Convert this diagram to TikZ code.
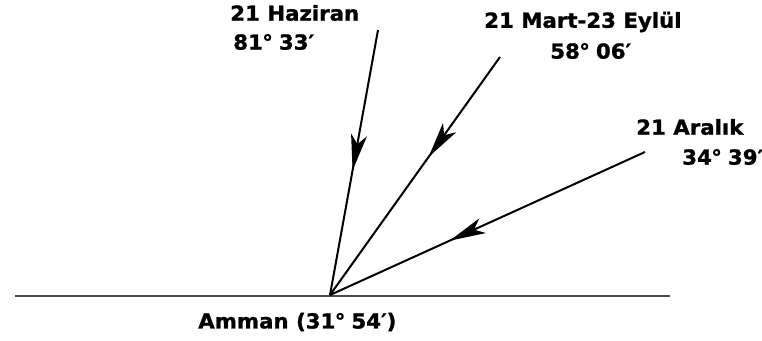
\documentclass[tikz,border=0pt]{standalone}
\usepackage{fontspec}
\setmainfont{DejaVu Sans}[BoldFeatures={FakeStretch=1.03,FakeBold=1.2}]
\usetikzlibrary{arrows.meta,decorations.markings}
\newcommand{\dg}{\kern-0.5pt°\kern-1pt}
\tikzset{
  ray/.style={line width=1.5pt, black, postaction={decorate}, decoration={markings, mark=at position #1 with {\arrow{Stealth[length=27pt,width=12pt,inset=7pt]}}}},
  lbl/.style={font=\bfseries\fontsize{15.5}{17}\selectfont, inner sep=0pt, anchor=west}
}
\begin{document}
\begin{tikzpicture}[x=0.75pt,y=-0.75pt]
\useasboundingbox (0,0) rectangle (762,340);
\coordinate (O) at (330,295);
\coordinate (L) at (15,296);
\coordinate (R) at (670,296);
\coordinate (H) at (378,30);
\coordinate (M) at (500,57);
\coordinate (A) at (645,152);
\draw[line width=2pt, black!70] (L) -- (R);
\draw[ray=0.53] (H) -- (O);
\draw[ray=0.42] (M) -- (O);
\draw[ray=0.62] (A) -- (O);
\node[lbl] (h1) at (230,13) {21 Haziran};
\node[lbl] (h2) at (233,42) {81\dg{} 33′};
\node[lbl] (m1) at (484,22) {21 Mart-23 Eylül};
\node[lbl] (m2) at (550,51) {58\dg{} 06′};
\node[lbl] (a1) at (636,127) {21 Aralık};
\node[lbl] (a2) at (682,157) {34\dg{} 39′};
\node[lbl] (am) at (198,322) {Amman (31\dg{} 54′)};
\end{tikzpicture}
\end{document}
